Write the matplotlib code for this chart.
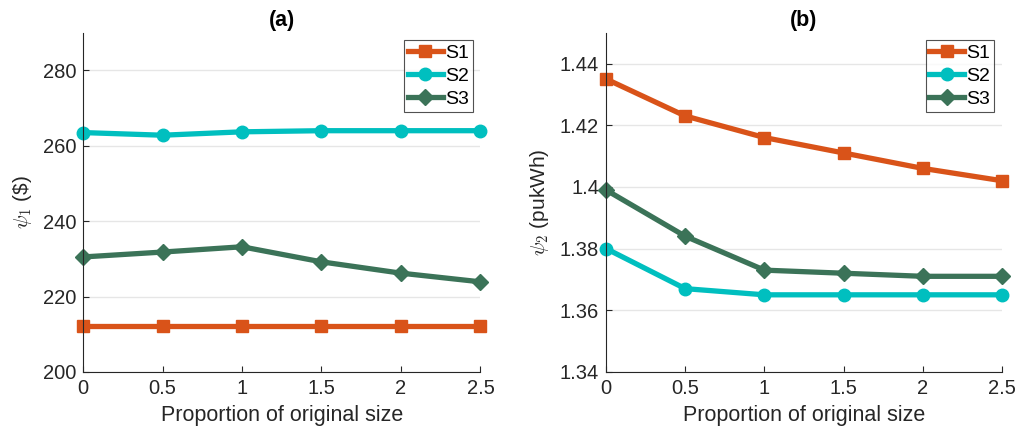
import matplotlib
matplotlib.use("Agg")
import matplotlib.pyplot as plt

x = [0, 0.5, 1, 1.5, 2, 2.5]
series_names = ["S1", "S2", "S3"]
psi1_S1 = [212.3, 212.3, 212.3, 212.3, 212.3, 212.3]
psi1_S2 = [263.5, 262.8, 263.7, 264.0, 264.0, 264.0]
psi1_S3 = [230.5, 231.8, 233.2, 229.2, 226.2, 223.9]
psi2_S1 = [1.435, 1.423, 1.416, 1.411, 1.406, 1.402]
psi2_S2 = [1.380, 1.367, 1.365, 1.365, 1.365, 1.365]
psi2_S3 = [1.399, 1.384, 1.373, 1.372, 1.371, 1.371]
xticks = [0, 0.5, 1, 1.5, 2, 2.5]
xtick_labels = ["0", "0.5", "1", "1.5", "2", "2.5"]
yticks_a = [200, 220, 240, 260, 280]
yticks_b = [1.34, 1.36, 1.38, 1.40, 1.42, 1.44]
ytick_labels_b = ["1.34", "1.36", "1.38", "1.4", "1.42", "1.44"]

colors = ["#D95319", "#00BFBF", "#3B7358"]
markers = ["s", "o", "D"]
msizes = [8, 9, 8]

plt.rcParams['font.family'] = ['Liberation Sans', 'DejaVu Sans']
plt.rcParams['mathtext.fontset'] = 'cm'

fig = plt.figure(figsize=(10.19, 4.36), dpi=100)
axa = fig.add_axes([0.0815, 0.147, 0.390, 0.778])
axb = fig.add_axes([0.5947, 0.147, 0.3886, 0.778])

def style(ax, ylabel, title, yticks, ylabels, ylim):
    ax.set_xlim(0, 2.5)
    ax.set_ylim(*ylim)
    ax.set_xticks(xticks)
    ax.set_xticklabels(xtick_labels)
    ax.set_yticks(yticks)
    ax.set_yticklabels(ylabels)
    ax.grid(axis='y', color='#E6E6E6', linewidth=1)
    ax.set_axisbelow(True)
    for s in ['top', 'right']:
        ax.spines[s].set_visible(False)
    for s in ['left', 'bottom']:
        ax.spines[s].set_color('#262626')
        ax.spines[s].set_linewidth(0.8)
    ax.tick_params(direction='in', length=4, width=0.8, colors='#262626',
                   labelsize=14.5, pad=5)
    ax.set_xlabel("Proportion of original size", fontsize=15.5, color='#262626', labelpad=5)
    ax.set_ylabel(ylabel, fontsize=15, color='#262626', labelpad=6)
    ax.set_title(title, fontsize=15.5, fontweight='bold', pad=5)

for ys, c, m, ms, n in zip([psi1_S1, psi1_S2, psi1_S3], colors, markers, msizes, series_names):
    axa.plot(x, ys, color=c, marker=m, markersize=ms, linewidth=3.8, label=n, clip_on=False)
for ys, c, m, ms, n in zip([psi2_S1, psi2_S2, psi2_S3], colors, markers, msizes, series_names):
    axb.plot(x, ys, color=c, marker=m, markersize=ms, linewidth=3.8, label=n, clip_on=False)

style(axa, r'$\psi_1$ (\$)', '(a)', yticks_a, [str(v) for v in yticks_a], (200, 290))
style(axb, r'$\psi_2$ (pukWh)', '(b)', yticks_b, ytick_labels_b, (1.34, 1.45))

for ax in (axa, axb):
    leg = ax.legend(loc='upper right', fontsize=14, frameon=True, fancybox=False,
                    edgecolor='#262626', handlelength=1.8, handletextpad=0.1,
                    borderpad=0.2, labelspacing=0.28, borderaxespad=0.4)
    leg.get_frame().set_linewidth(0.8)

fig.savefig("out.png", dpi=100)
